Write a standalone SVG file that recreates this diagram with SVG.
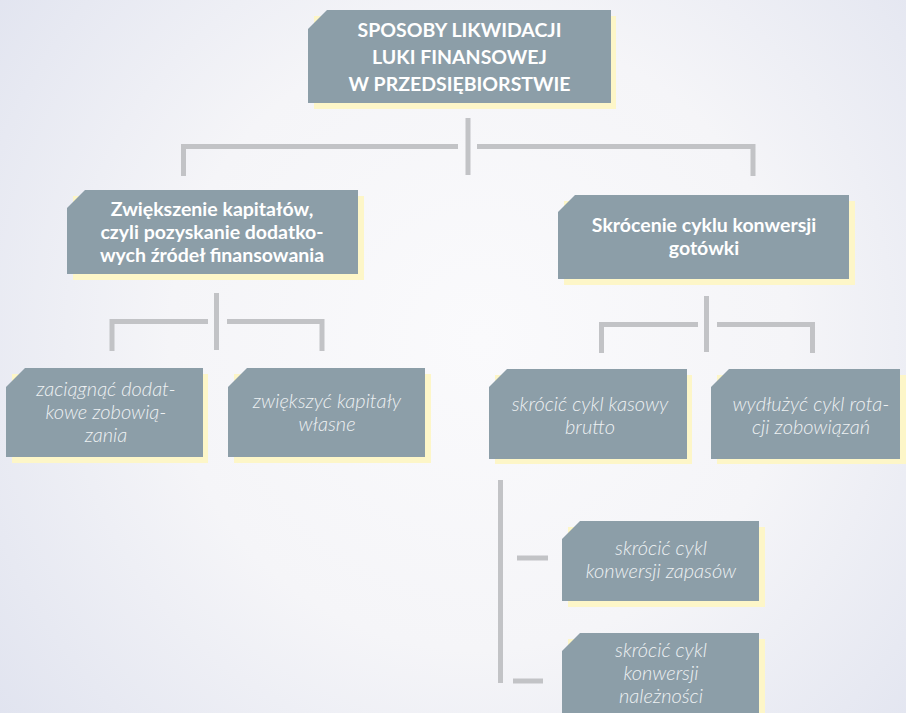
<svg xmlns="http://www.w3.org/2000/svg" width="906" height="713" viewBox="0 0 906 713">
  <defs>
    <radialGradient id="bg" cx="480" cy="340" r="620" gradientUnits="userSpaceOnUse">
      <stop offset="0" stop-color="#fafafc"/>
      <stop offset="0.5" stop-color="#f5f5f8"/>
      <stop offset="1" stop-color="#e0e3ef"/>
    </radialGradient>
  </defs>
  <style>
    .shadow { fill: #fdf6c8; }
    .box { fill: #8c9ea8; }
    .link { fill: none; stroke: #c2c3c6; stroke-width: 5; stroke-linecap: butt; stroke-linejoin: miter; }
    .head { font-family: "Lato", "Open Sans", "Liberation Sans", sans-serif; font-weight: 700; fill: #ffffff; text-anchor: middle; }
    .title { font-size: 19.5px; }
    .sub { font-size: 19.5px; }
    .item { font-family: "Lato", "Open Sans", "Liberation Sans", sans-serif; font-weight: 300; font-style: italic; font-size: 20px; fill: #eef1f3; text-anchor: middle; }
  </style>

  <rect width="906" height="713" fill="url(#bg)"/>

  <!-- connectors -->
  <g id="connectors">
    <path class="link" d="M468 118 V175"/>
    <path class="link" d="M183.5 176 V146.5 H458"/>
    <path class="link" d="M477 146.5 H753 V176"/>

    <path class="link" d="M216.5 293 V350"/>
    <path class="link" d="M112 351 V321.5 H208"/>
    <path class="link" d="M227 321.5 H322 V351"/>

    <path class="link" d="M706.5 296 V352"/>
    <path class="link" d="M601.5 353 V324.5 H698"/>
    <path class="link" d="M717 324.5 H812.5 V353"/>

    <path class="link" d="M500.5 480 V683"/>
    <path class="link" d="M517 558 H548" stroke-width="4.5"/>
    <path class="link" d="M513 681 H543" stroke-width="4.5"/>
  </g>

  <!-- root -->
  <g id="root">
    <rect class="shadow" x="314" y="16" width="302" height="93"/>
    <path class="box" d="M327 10 H611 V103 H308 V29 Z"/>
    <text class="head title" x="459.5" y="37">SPOSOBY LIKWIDACJI</text>
    <text class="head title" x="459.5" y="64">LUKI FINANSOWEJ</text>
    <text class="head title" x="459.5" y="91">W PRZEDSIĘBIORSTWIE</text>
  </g>

  <!-- second level -->
  <g id="capital">
    <rect class="shadow" x="73" y="196" width="291" height="84"/>
    <path class="box" d="M85 190 H358 V274 H67 V208 Z"/>
    <text class="head sub" x="212" y="216">Zwiększenie kapitałów,</text>
    <text class="head sub" x="212" y="239">czyli pozyskanie dodatko-</text>
    <text class="head sub" x="212" y="262">wych źródeł finansowania</text>
  </g>

  <g id="cycle">
    <rect class="shadow" x="564" y="201" width="291" height="84"/>
    <path class="box" d="M575 195 H849 V279 H558 V212 Z"/>
    <text class="head sub" x="704" y="232">Skrócenie cyklu konwersji</text>
    <text class="head sub" x="704" y="255">gotówki</text>
  </g>

  <!-- third level -->
  <g id="liabilities">
    <rect class="shadow" x="12" y="374" width="196" height="89"/>
    <path class="box" d="M25 368 H203 V457 H6 V387 Z"/>
    <text class="item" x="106" y="396">zaciągnąć dodat-</text>
    <text class="item" x="106" y="419">kowe zobowią-</text>
    <text class="item" x="106" y="442">zania</text>
  </g>

  <g id="equity">
    <rect class="shadow" x="234" y="374" width="197" height="89"/>
    <path class="box" d="M247 368 H425 V457 H228 V387 Z"/>
    <text class="item" x="327" y="408">zwiększyć kapitały</text>
    <text class="item" x="327" y="431">własne</text>
  </g>

  <g id="cash-cycle">
    <rect class="shadow" x="495" y="375" width="197" height="89"/>
    <path class="box" d="M507 369 H687 V459 H489 V387 Z"/>
    <text class="item" x="590" y="411">skrócić cykl kasowy</text>
    <text class="item" x="590" y="434">brutto</text>
  </g>

  <g id="payables">
    <rect class="shadow" x="717" y="375" width="189" height="89"/>
    <path class="box" d="M729 369 H900 V459 H711 V387 Z"/>
    <text class="item" x="811" y="411">wydłużyć cykl rota-</text>
    <text class="item" x="811" y="434">cji zobowiązań</text>
  </g>

  <g id="inventory">
    <rect class="shadow" x="568" y="527" width="197" height="80"/>
    <path class="box" d="M580 521 H759 V601 H562 V539 Z"/>
    <text class="item" x="661" y="555">skrócić cykl</text>
    <text class="item" x="661" y="578">konwersji zapasów</text>
  </g>

  <g id="receivables">
    <rect class="shadow" x="568" y="639" width="197" height="80"/>
    <path class="box" d="M580 633 H759 V719 H562 V651 Z"/>
    <text class="item" x="661" y="657">skrócić cykl</text>
    <text class="item" x="661" y="680">konwersji</text>
    <text class="item" x="661" y="703">należności</text>
  </g>
</svg>
